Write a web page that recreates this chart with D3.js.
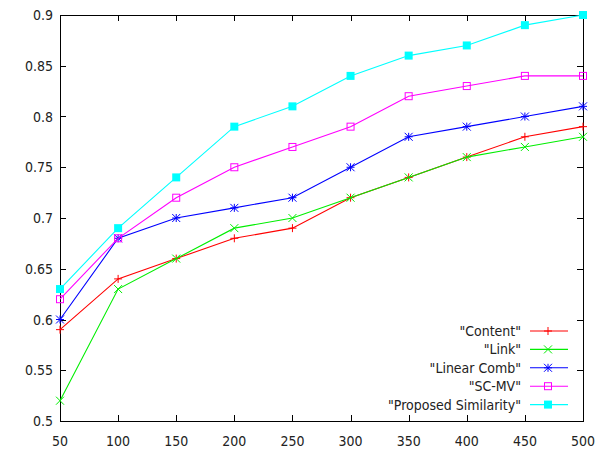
<!DOCTYPE html>
<html>
<head>
<meta charset="utf-8">
<script src="https://cdn.jsdelivr.net/npm/d3@7"></script>
<style>
  body { margin: 0; background: #fff; }
  text { font-family: "DejaVu Sans", sans-serif; font-size: 14px; fill: #222; }
</style>
</head>
<body>
<div id="chart"></div>
<script>
const xValues = [50, 100, 150, 200, 250, 300, 350, 400, 450, 500]
const content = [0.59, 0.64, 0.66, 0.68, 0.69, 0.72, 0.74, 0.76, 0.78, 0.79]
const link = [0.52, 0.63, 0.66, 0.69, 0.70, 0.72, 0.74, 0.76, 0.77, 0.78]
const linearComb = [0.60, 0.68, 0.70, 0.71, 0.72, 0.75, 0.78, 0.79, 0.80, 0.81]
const scmv = [0.62, 0.68, 0.72, 0.75, 0.77, 0.79, 0.82, 0.83, 0.84, 0.84]
const proposed = [0.63, 0.69, 0.74, 0.79, 0.81, 0.84, 0.86, 0.87, 0.89, 0.90]
const seriesNames = ['"Content"', '"Link"', '"Linear Comb"', '"SC-MV"', '"Proposed Similarity"']
const xTicks = [50, 100, 150, 200, 250, 300, 350, 400, 450, 500]
const yTicks = [0.5, 0.55, 0.6, 0.65, 0.7, 0.75, 0.8, 0.85, 0.9]

const series = [
    { name: seriesNames[0], values: content, color: '#ff0000', marker: 'plus' },
    { name: seriesNames[1], values: link, color: '#00ee00', marker: 'cross' },
    { name: seriesNames[2], values: linearComb, color: '#0000ff', marker: 'star' },
    { name: seriesNames[3], values: scmv, color: '#ff00ff', marker: 'box' },
    { name: seriesNames[4], values: proposed, color: '#00ffff', marker: 'fbox' }
]

const dims = { width: 612, height: 451, left: 60, right: 29, top: 15, bottom: 30 }
const squeeze = 0.9  // labels in the picture are a little narrow

const svg = d3.select('#chart')
    .append('svg')
    .attr('width', dims.width)
    .attr('height', dims.height)

const xScale = d3.scaleLinear()
    .domain([50, 500])
    .range([dims.left, dims.width - dims.right])

const yScale = d3.scaleLinear()
    .domain([0.5, 0.9])
    .range([dims.height - dims.bottom, dims.top])

const x0 = xScale.range()[0], x1 = xScale.range()[1]
const y0 = yScale.range()[0], y1 = yScale.range()[1]
const tickLen = 6

function label(g, x, y, anchor, str) {
    return g.append('text')
        .attr('transform', `translate(${x},${y}) scale(${squeeze},1)`)
        .attr('text-anchor', anchor)
        .text(str)
}

// frame ticks (mirrored on all four sides)
const ticks = svg.append('g').attr('stroke', '#000').attr('stroke-width', 1).attr('shape-rendering', 'crispEdges')
xTicks.forEach(t => {
    const x = Math.round(xScale(t)) + 0.5
    ticks.append('line').attr('x1', x).attr('x2', x).attr('y1', y0).attr('y2', y0 - tickLen)
    ticks.append('line').attr('x1', x).attr('x2', x).attr('y1', y1).attr('y2', y1 + tickLen)
})
yTicks.forEach(t => {
    const y = Math.round(yScale(t)) + 0.5
    ticks.append('line').attr('x1', x0).attr('x2', x0 + tickLen).attr('y1', y).attr('y2', y)
    ticks.append('line').attr('x1', x1).attr('x2', x1 - tickLen).attr('y1', y).attr('y2', y)
})

// tick labels
const xLabels = svg.append('g')
xTicks.forEach(t => label(xLabels, xScale(t), y0 + 25, 'middle', t))
const yLabels = svg.append('g')
yTicks.forEach(t => label(yLabels, x0 - 7, yScale(t) + 5, 'end', t))

// frame
svg.append('rect')
    .attr('x', x0 + 0.5)
    .attr('y', y1 + 0.5)
    .attr('width', x1 - x0)
    .attr('height', y0 - y1)
    .attr('fill', 'none')
    .attr('stroke', '#000')
    .attr('shape-rendering', 'crispEdges')

function drawMarker(g, type, x, y, color) {
    const s = 4
    if (type === 'plus' || type === 'star') {
        g.append('line').attr('x1', x - s).attr('x2', x + s).attr('y1', y).attr('y2', y).attr('stroke', color)
        g.append('line').attr('x1', x).attr('x2', x).attr('y1', y - s).attr('y2', y + s).attr('stroke', color)
    }
    if (type === 'cross' || type === 'star') {
        g.append('line').attr('x1', x - s).attr('x2', x + s).attr('y1', y - s).attr('y2', y + s).attr('stroke', color)
        g.append('line').attr('x1', x - s).attr('x2', x + s).attr('y1', y + s).attr('y2', y - s).attr('stroke', color)
    }
    if (type === 'box') {
        g.append('rect').attr('x', x - 3.5).attr('y', y - 3.5).attr('width', 7).attr('height', 7)
            .attr('fill', 'none').attr('stroke', color)
    }
    if (type === 'fbox') {
        g.append('rect').attr('x', x - 4).attr('y', y - 4).attr('width', 8).attr('height', 8)
            .attr('fill', color)
    }
}

const lineGenerator = d3.line()
    .x((d, i) => xScale(xValues[i]))
    .y(d => yScale(d))

series.forEach(s => {
    svg.append('path')
        .datum(s.values)
        .attr('d', lineGenerator)
        .attr('fill', 'none')
        .attr('stroke', s.color)
        .attr('stroke-width', 1.1)
    const g = svg.append('g')
    s.values.forEach((v, i) => drawMarker(g, s.marker, xScale(xValues[i]), yScale(v), s.color))
})

// legend
const legendTop = 331
const legendStep = 18.4
const legend = svg.append('g')
series.forEach((s, i) => {
    const y = legendTop + i * legendStep
    label(legend, 521, y + 5, 'end', s.name)
    legend.append('line')
        .attr('x1', 530).attr('x2', 568)
        .attr('y1', y).attr('y2', y)
        .attr('stroke', s.color)
        .attr('stroke-width', 1.1)
    drawMarker(legend.append('g'), s.marker, 548, y, s.color)
})
</script>
</body>
</html>
